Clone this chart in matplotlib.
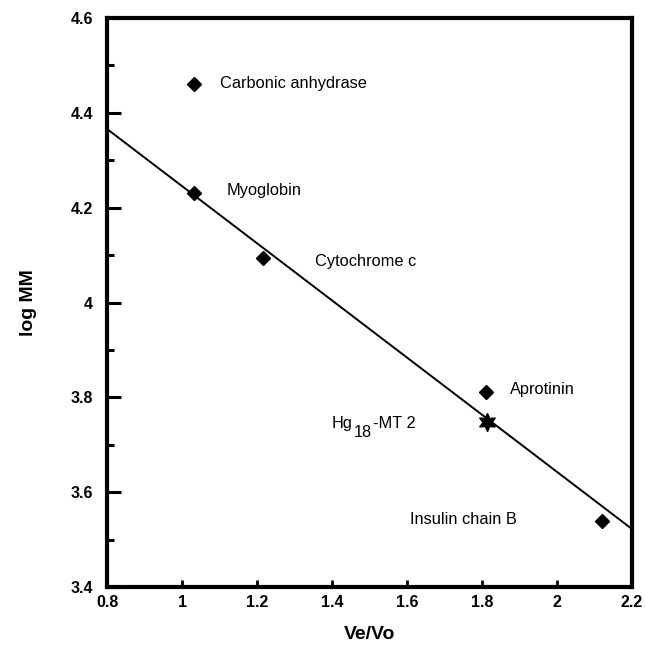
import matplotlib
matplotlib.use("Agg")
import matplotlib.pyplot as plt
from matplotlib.ticker import MultipleLocator, FixedLocator, FuncFormatter

plt.rcParams['font.family'] = ['Liberation Sans', 'DejaVu Sans']

# Data
proteins = ["Carbonic anhydrase", "Myoglobin", "Cytochrome c", "Aprotinin", "Insulin chain B"]
ve_vo = [1.032, 1.032, 1.216, 1.811, 2.12]
log_mm = [4.461, 4.232, 4.093, 3.812, 3.539]

sample_parts = ["Hg", "18", "-MT 2"]
sample_ve_vo = 1.812
sample_log_mm = 3.748

fit_x = [0.8, 2.2]
fit_y = [4.366, 3.522]

x_ticks = [0.8, 1.0, 1.2, 1.4, 1.6, 1.8, 2.0, 2.2]
y_ticks = [3.4, 3.6, 3.8, 4.0, 4.2, 4.4, 4.6]

label_pos = {  # label anchor in data coords
    "Carbonic anhydrase": (1.10, 4.461),
    "Myoglobin": (1.118, 4.236),
    "Cytochrome c": (1.355, 4.087),
    "Aprotinin": (1.875, 3.816),
    "Insulin chain B": (1.608, 3.542),
}
sample_label_pos = (1.40, 3.735)

fig = plt.figure(figsize=(6.45, 6.45), dpi=100)
ax = fig.add_axes([0.166, 0.090, 0.814, 0.882])

ax.plot(fit_x, fit_y, color='black', lw=1.4, zorder=2)
ax.plot(ve_vo, log_mm, linestyle='none', marker='D', ms=7.5, color='black', zorder=3)
ax.plot([sample_ve_vo], [sample_log_mm], linestyle='none', marker=(6, 1, 0), ms=13,
        color='black', zorder=3)

fs = 11.8
for name in proteins:
    x, y = label_pos[name]
    ax.text(x, y, name, fontsize=fs, va='center', ha='left')

# Hg18-MT 2 label with subscript
ax.annotate(sample_parts[0], xy=sample_label_pos, xytext=(0, 0), textcoords='offset pixels',
            fontsize=fs, va='baseline', ha='left')
ax.annotate(sample_parts[1], xy=sample_label_pos, xytext=(22, -9), textcoords='offset pixels',
            fontsize=fs, va='baseline', ha='left')
ax.annotate(sample_parts[2], xy=sample_label_pos, xytext=(41, 0), textcoords='offset pixels',
            fontsize=fs, va='baseline', ha='left')

ax.set_xlim(0.8, 2.2)
ax.set_ylim(3.4, 4.6)
ax.xaxis.set_major_locator(FixedLocator(x_ticks))
ax.yaxis.set_major_locator(FixedLocator(y_ticks))
ax.yaxis.set_minor_locator(MultipleLocator(0.1))
fmt = FuncFormatter(lambda v, p: f"{v:g}")
ax.xaxis.set_major_formatter(fmt)
ax.yaxis.set_major_formatter(fmt)

for s in ax.spines.values():
    s.set_linewidth(3.0)

ax.tick_params(axis='y', which='major', direction='in', length=10, width=2.2, pad=10,
               labelsize=11.5)
ax.tick_params(axis='y', which='minor', direction='in', length=5, width=2.2)
ax.tick_params(axis='x', which='major', direction='in', length=5, width=2.0, pad=6,
               labelsize=11.5)
for lbl in ax.get_xticklabels() + ax.get_yticklabels():
    lbl.set_fontweight('bold')

ax.set_xlabel('Ve/Vo', fontsize=14, fontweight='bold', labelpad=11)
ax.set_ylabel('log MM', fontsize=14, fontweight='bold', labelpad=24)

fig.savefig('out.png', dpi=100)
